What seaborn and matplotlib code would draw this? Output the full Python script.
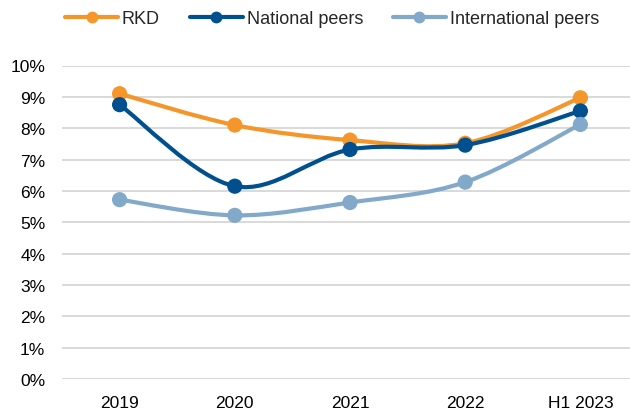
import numpy as np
import pandas as pd
import matplotlib
matplotlib.use("Agg")
import matplotlib.pyplot as plt
import seaborn as sns
from matplotlib.path import Path
from matplotlib.patches import PathPatch
from matplotlib.lines import Line2D
from matplotlib.ticker import PercentFormatter

# ================== Data ==================
periods = ["2019", "2020", "2021", "2022", "H1 2023"]
rkd = [9.1, 8.1, 7.62, 7.52, 8.97]
national_peers = [8.75, 6.15, 7.32, 7.46, 8.55]
international_peers = [5.72, 5.22, 5.63, 6.28, 8.12]

series_names = ["RKD", "National peers", "International peers"]
colors = ["#F5962A", "#00508F", "#82A8CA"]

df = pd.DataFrame({
    "period": periods * 3,
    "pos": list(range(len(periods))) * 3,
    "value": rkd + national_peers + international_peers,
    "series": [s for s in series_names for _ in periods],
})

# ================== Style ==================
sns.set_theme(style="white")
plt.rcParams["font.family"] = ["Liberation Sans", "DejaVu Sans"]

fig = plt.figure(figsize=(6.3, 4.1), dpi=100)
ax = fig.add_axes([62 / 630, 30 / 410, (638 - 62) / 630, (380 - 66.5) / 410])


def smooth_path(xs, ys):
    # Excel-like smoothed line: Catmull-Rom as cubic Bezier segments
    pts = np.column_stack([xs, ys]).astype(float)
    ext = np.vstack([pts[0], pts, pts[-1]])
    verts = [pts[0]]
    codes = [Path.MOVETO]
    for i in range(len(pts) - 1):
        p0, p1, p2, p3 = ext[i], ext[i + 1], ext[i + 2], ext[i + 3]
        c1 = p1 + (p2 - p0) / 6
        c2 = p2 - (p3 - p1) / 6
        verts += [c1, c2, p2]
        codes += [Path.CURVE4] * 3
    return Path(verts, codes)


for k, (name, color) in enumerate(zip(series_names, colors)):
    sub = df[df["series"] == name]
    patch = PathPatch(smooth_path(sub["pos"], sub["value"]), fill=False,
                      edgecolor=color, lw=3.0, capstyle="round",
                      joinstyle="round", zorder=3 + 2 * k)
    ax.add_patch(patch)
    sns.scatterplot(data=sub, x="pos", y="value", color=color, s=120,
                    edgecolor="none", linewidth=0, ax=ax, zorder=4 + 2 * k,
                    legend=False)

ax.set_xlim(-0.5, len(periods) - 0.5)
ax.set_ylim(0, 10)
ax.set_yticks(range(0, 11))
ax.yaxis.set_major_formatter(PercentFormatter(decimals=0))
ax.set_xticks(range(len(periods)))
ax.set_xticklabels(periods)
ax.set_xlabel("")
ax.set_ylabel("")
ax.grid(axis="y", color="#D9D9D9", lw=1.4)
ax.grid(axis="x", visible=False)
ax.set_axisbelow(True)
for sp in ax.spines.values():
    sp.set_visible(False)
ax.tick_params(axis="both", length=0, labelsize=12.5, colors="black")
ax.tick_params(axis="y", pad=12)
ax.tick_params(axis="x", pad=11.5)

handles = [Line2D([0], [0], color=c, lw=3.0, marker="o", markersize=7.5)
           for c in colors]
fig.legend(handles, series_names, loc="center", bbox_to_anchor=(332 / 630, 1 - 20 / 410),
           ncol=3, frameon=False, fontsize=13, handlelength=2.95,
           handletextpad=0.2, columnspacing=1.65, borderaxespad=0, borderpad=0)

fig.savefig("out.png", dpi=100)
